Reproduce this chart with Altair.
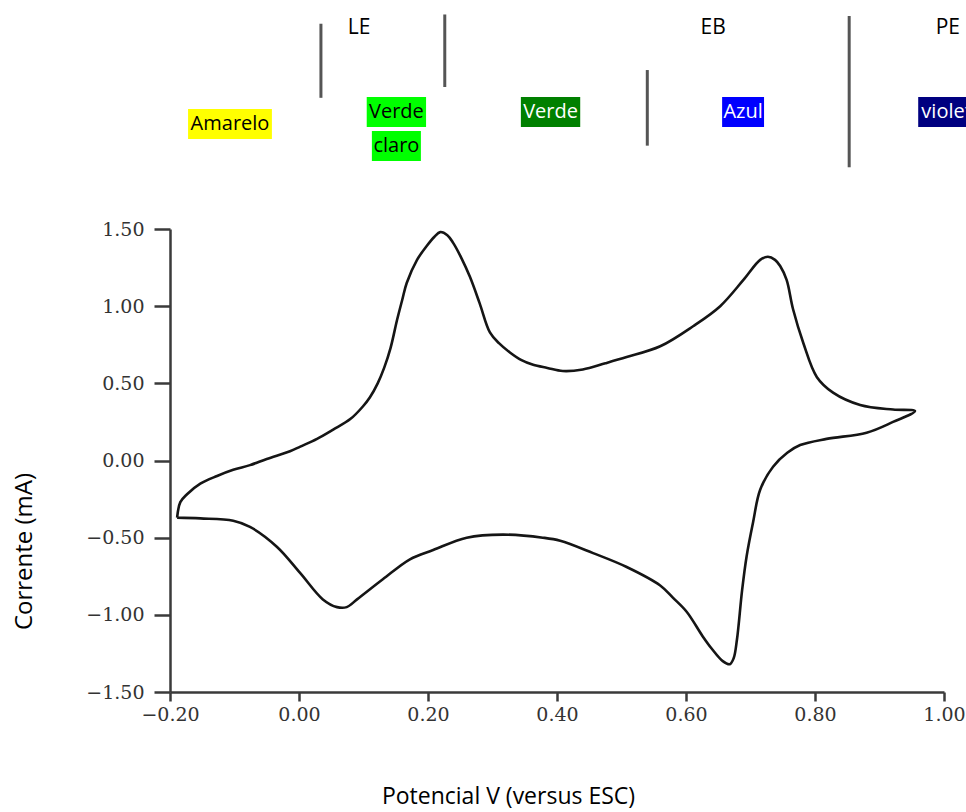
import altair as alt
import pandas as pd

# ---- cyclic voltammogram, traced as one closed loop ----
potential = [
    -0.189, -0.184, -0.174, -0.153, -0.127, -0.102, -0.076, -0.050, -0.014, 0.002,
    0.028, 0.053, 0.080, 0.099, 0.110, 0.122, 0.132, 0.142, 0.152, 0.160,
    0.167, 0.183, 0.198, 0.210, 0.219, 0.230, 0.239, 0.252, 0.265, 0.280,
    0.296, 0.310, 0.327, 0.345, 0.363, 0.385, 0.409, 0.440, 0.475, 0.508,
    0.560, 0.611, 0.653, 0.689, 0.715, 0.727, 0.738, 0.746, 0.756, 0.766,
    0.782, 0.803, 0.828, 0.870, 0.921, 0.955,
    0.921, 0.880, 0.818, 0.777, 0.757, 0.735, 0.715, 0.704, 0.694, 0.687,
    0.679, 0.674, 0.668, 0.657, 0.640, 0.626, 0.601, 0.580, 0.560, 0.508,
    0.456, 0.405, 0.378, 0.316, 0.260, 0.208, 0.172, 0.130, 0.090, 0.074,
    0.059, 0.037, 0.002, -0.034, -0.076, -0.102, -0.153, -0.189,
]
current = [
    -0.37, -0.27, -0.22, -0.15, -0.10, -0.06, -0.03, 0.01, 0.06, 0.09,
    0.14, 0.20, 0.27, 0.35, 0.41, 0.50, 0.60, 0.73, 0.91, 1.04,
    1.15, 1.30, 1.39, 1.45, 1.48, 1.46, 1.41, 1.31, 1.19, 1.02,
    0.83, 0.76, 0.70, 0.65, 0.62, 0.60, 0.58, 0.59, 0.63, 0.67,
    0.74, 0.87, 1.00, 1.17, 1.30, 1.32, 1.30, 1.26, 1.17, 0.98,
    0.76, 0.54, 0.44, 0.36, 0.33, 0.32,
    0.25, 0.18, 0.14, 0.10, 0.05, -0.04, -0.19, -0.40, -0.62, -0.84,
    -1.16, -1.28, -1.32, -1.30, -1.22, -1.14, -0.98, -0.89, -0.81, -0.69,
    -0.60, -0.52, -0.50, -0.48, -0.50, -0.58, -0.64, -0.77, -0.90, -0.95,
    -0.95, -0.90, -0.73, -0.56, -0.43, -0.39, -0.375, -0.37,
]

x_ticks = [-0.20, 0.00, 0.20, 0.40, 0.60, 0.80, 1.00]
y_ticks = [-1.50, -1.00, -0.50, 0.00, 0.50, 1.00, 1.50]

# ---- annotation texts ----
stage_labels = ["LE", "EB", "PE"]
colour_labels = ["Amarelo", "Verde", "claro", "Verde", "Azul", "violet"]
colour_fills = ["#ffff00", "#00ff00", "#00ff00", "#008000", "#0000ff", "#000080"]
colour_text = ["#000000", "#000000", "#000000", "#ffffff", "#ffffff", "#ffffff"]

# annotation placement (in chart units: potential / current)
stage_x = [0.093, 0.642, 1.006]
stage_y = 2.80
box_x1 = [-0.172, 0.105, 0.113, 0.344, 0.656, 0.960]
box_x2 = [-0.042, 0.197, 0.189, 0.436, 0.721, 1.048]
box_y1 = [2.278, 2.355, 2.135, 2.355, 2.355, 2.355]
box_y2 = [2.083, 2.161, 1.940, 2.161, 2.161, 2.161]
rule_x = [0.034, 0.226, 0.540, 0.853]
rule_y1 = [2.83, 2.89, 2.53, 2.88]
rule_y2 = [2.35, 2.42, 2.04, 1.90]

curve_df = pd.DataFrame({"idx": range(len(potential)), "potential": potential, "current": current})
stage_df = pd.DataFrame({"label": stage_labels, "x": stage_x, "y": [stage_y] * 3})
box_df = pd.DataFrame({
    "label": colour_labels, "fill": colour_fills, "tcol": colour_text,
    "x1": box_x1, "x2": box_x2, "y1": box_y1, "y2": box_y2,
})
box_df["xc"] = (box_df["x1"] + box_df["x2"]) / 2
box_df["yc"] = (box_df["y1"] + box_df["y2"]) / 2
rule_df = pd.DataFrame({"x": rule_x, "y1": rule_y1, "y2": rule_y2})

AX = "#3a3a3a"
xscale = alt.Scale(domain=[-0.2, 1.0], nice=False, zero=False)
yscale = alt.Scale(domain=[-1.5, 1.5], range=[692, 229], nice=False, zero=False)

curve = alt.Chart(curve_df).mark_line(
    color="#151515", strokeWidth=2.6, interpolate="catmull-rom", strokeJoin="round"
).encode(
    x=alt.X("potential:Q", scale=xscale, axis=alt.Axis(
        values=x_ticks, format=".2f", title="Potencial V (versus ESC)",
        grid=False, labelFlush=False, labelOverlap=False,
        domainColor=AX, domainWidth=2.5, tickColor=AX, tickWidth=2.5, tickSize=9,
        labelFont="DejaVu Serif", labelFontSize=19, labelColor="#333333", labelPadding=4,
        titleFont="Open Sans", titleFontSize=23, titleFontWeight="normal", titleColor="#000000",
        titleX=338, titleY=111, titleBaseline="alphabetic", titleAlign="center",
    )),
    y=alt.Y("current:Q", scale=yscale, axis=alt.Axis(
        values=y_ticks, format=".2f", title="Corrente (mA)",
        grid=False, labelOverlap=False,
        domainColor=AX, domainWidth=2.5, tickColor=AX, tickWidth=2.5, tickSize=16,
        labelFont="DejaVu Serif", labelFontSize=19, labelColor="#333333", labelPadding=10,
        titleFont="Open Sans", titleFontSize=24, titleFontWeight="normal", titleColor="#000000",
        titleX=-146, titleY=551, titleAngle=270, titleBaseline="middle", titleAlign="center",
    )),
    order="idx:Q",
)

rules = alt.Chart(rule_df).mark_rule(color="#555555", strokeWidth=3).encode(
    x=alt.X("x:Q", scale=xscale), y=alt.Y("y1:Q", scale=yscale), y2="y2:Q"
)
boxes = alt.Chart(box_df).mark_rect().encode(
    x=alt.X("x1:Q", scale=xscale), x2="x2:Q",
    y=alt.Y("y1:Q", scale=yscale), y2="y2:Q",
    color=alt.Color("fill:N", scale=None),
)
box_text = alt.Chart(box_df).mark_text(
    font="Open Sans", fontSize=20, align="center", baseline="middle"
).encode(
    x=alt.X("xc:Q", scale=xscale), y=alt.Y("yc:Q", scale=yscale),
    text="label:N", color=alt.Color("tcol:N", scale=None),
)
stage_text = alt.Chart(stage_df).mark_text(
    font="Open Sans", fontSize=21, align="center", baseline="middle", color="#000000"
).encode(
    x=alt.X("x:Q", scale=xscale), y=alt.Y("y:Q", scale=yscale), text="label:N",
)

chart = alt.layer(curve, rules, boxes, box_text, stage_text).properties(
    width=774, height=692,
    autosize=alt.AutoSizeParams(type="none"),
    padding={"left": 170, "top": 0, "right": 22, "bottom": 120},
).configure_view(stroke="transparent")

chart.save("out.html", embed_options={"renderer": "svg", "actions": False})
